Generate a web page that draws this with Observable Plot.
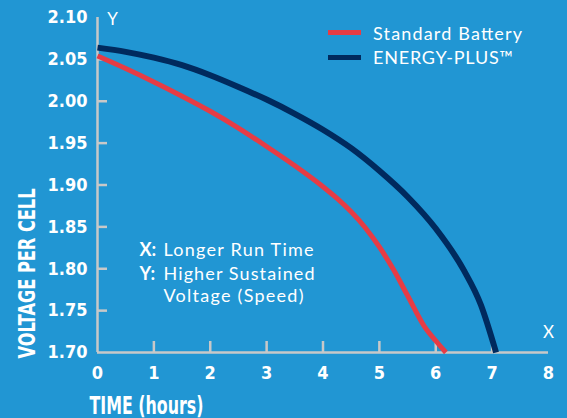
<!DOCTYPE html>
<html><head><meta charset="utf-8">
<script src="https://cdn.jsdelivr.net/npm/d3@7"></script>
<script src="https://cdn.jsdelivr.net/npm/@observablehq/plot@0.6"></script>
<style>
html,body{margin:0;padding:0;background:#2196d3;}
#wrap{width:567px;height:418px;overflow:hidden;}
</style></head><body><div id="wrap"></div>
<script>
// ---- data ----
const hoursStd = [0, 0.5, 1, 1.5, 2, 2.5, 3, 3.5, 4, 4.25, 4.5, 4.75, 5, 5.25, 5.5, 5.8, 6.0, 6.18];
const voltStd  = [2.054, 2.039, 2.023, 2.006, 1.988, 1.968, 1.946, 1.923, 1.898, 1.884, 1.868, 1.849, 1.826, 1.799, 1.768, 1.731, 1.714, 1.700];
const hoursEP  = [0, 0.5, 1, 1.5, 2, 2.5, 3, 3.5, 4, 4.5, 5, 5.5, 6, 6.5, 6.8, 7.07];
const voltEP   = [2.064, 2.059, 2.052, 2.043, 2.031, 2.017, 2.002, 1.985, 1.966, 1.944, 1.917, 1.886, 1.848, 1.798, 1.757, 1.700];
const seriesNames = ["Standard Battery", "ENERGY-PLUS™"];
const xTickLabels = [0, 1, 2, 3, 4, 5, 6, 7, 8];
const yTickLabels = [1.70, 1.75, 1.80, 1.85, 1.90, 1.95, 2.00, 2.05, 2.10];
const xTickMarks = [1, 2, 3, 4, 5, 6, 7];
const yTickMarks = [1.75, 1.80, 1.85, 1.90, 1.95, 2.00, 2.05];
const yTitle = "VOLTAGE PER CELL";
const xTitle = "TIME (hours)";
const noteLines = [["X:", "Longer Run Time"], ["Y:", "Higher Sustained"], ["", "Voltage (Speed)"]];

// ---- styling ----
const BG = "#2196d3", AX = "#c8c8c8", RED = "#e63c45", NAVY = "#002a5e";
const COND = '"Liberation Sans Narrow", "DejaVu Sans Condensed", sans-serif';
const SANS = 'Lato, "Open Sans", sans-serif';

const std = hoursStd.map((t, i) => ({t, v: voltStd[i]}));
const ep = hoursEP.map((t, i) => ({t, v: voltEP[i]}));

const noteMarks = [];
const baseDy = [238, 262, 284];
noteLines.forEach(([k, txt], i) => {
  if (k) noteMarks.push(Plot.text([k], {text: d => d, frameAnchor: "top-left", dx: 42, dy: baseDy[i], lineAnchor: "bottom", textAnchor: "start", fontFamily: SANS, fontWeight: "bold", fontSize: 18, fill: "white"}));
  noteMarks.push(Plot.text([txt], {text: d => d, frameAnchor: "top-left", dx: 66, dy: baseDy[i], lineAnchor: "bottom", textAnchor: "start", fontFamily: SANS, fontSize: 18, fill: "white"}));
});

const chart = Plot.plot({
  width: 567, height: 418,
  marginLeft: 97, marginRight: 19, marginTop: 17, marginBottom: 66,
  style: {background: BG, color: "white", fontFamily: SANS, overflow: "visible"},
  x: {domain: [0, 8]},
  y: {domain: [1.70, 2.10]},
  marks: [
    Plot.tickY(yTickMarks, {y: d => d, stroke: AX, strokeWidth: 2.5, insetRight: 441}),
    Plot.tickX(xTickMarks, {x: d => d, stroke: AX, strokeWidth: 2.5, insetTop: 324}),
    Plot.ruleX([0], {stroke: AX, strokeWidth: 2.5}),
    Plot.ruleY([1.70], {stroke: AX, strokeWidth: 2.5}),
    Plot.axisY(yTickLabels, {tickSize: 0, tickPadding: 10, tickFormat: d3.format(".2f"), fontSize: 18, fontWeight: "bold", fontFamily: COND, fill: "white", label: null}),
    Plot.axisX(xTickLabels, {tickSize: 0, tickPadding: 14, tickFormat: d3.format("d"), fontSize: 18, fontWeight: "bold", fontFamily: COND, fill: "white", label: null}),
    Plot.line(std, {x: "t", y: "v", stroke: RED, strokeWidth: 5, curve: "monotone-x", strokeLinecap: "butt"}),
    Plot.line(ep, {x: "t", y: "v", stroke: NAVY, strokeWidth: 6, curve: "monotone-x", strokeLinecap: "butt"}),
    Plot.text([yTitle], {text: d => d, frameAnchor: "left", dx: -70, dy: 88.5, rotate: -90, textAnchor: "middle", lineAnchor: "middle", fontSize: 23, fontWeight: "bold", fontFamily: COND, fill: "white"}),
    Plot.text([xTitle], {text: d => d, frameAnchor: "bottom-left", dx: -8, dy: 61, textAnchor: "start", lineAnchor: "bottom", fontSize: 25, fontWeight: "bold", fontFamily: COND, fill: "white"}),
    Plot.text(["Y"], {text: d => d, frameAnchor: "top-left", dx: 15, dy: 2, textAnchor: "middle", lineAnchor: "middle", fontSize: 17, fontFamily: SANS, fill: "white"}),
    Plot.text(["X"], {text: d => d, frameAnchor: "bottom-right", dx: 0, dy: -20, textAnchor: "middle", lineAnchor: "middle", fontSize: 17, fontFamily: SANS, fill: "white"}),
    ...noteMarks
  ]
});

const svg = d3.select(chart);
svg.selectAll("text").filter(function() { return this.textContent === yTitle; })
  .attr("textLength", 170).attr("lengthAdjust", "spacingAndGlyphs");
svg.selectAll("text").filter(function() { return this.textContent === xTitle; })
  .attr("textLength", 114).attr("lengthAdjust", "spacingAndGlyphs");
const noteLen = {"Longer Run Time": 150, "Higher Sustained": 151, "Voltage (Speed)": 140};
svg.selectAll("text").filter(function() { return this.textContent in noteLen; })
  .each(function() { d3.select(this).attr("textLength", noteLen[this.textContent]).attr("lengthAdjust", "spacing"); });

// legend
const leg = svg.append("g").attr("font-family", SANS).attr("font-size", 18).attr("fill", "white").attr("text-anchor", "start");
[[RED, 32.5, 40], [NAVY, 57.5, 63.5]].forEach(([c, ly, by], i) => {
  leg.append("line").attr("x1", 328).attr("x2", 361).attr("y1", ly).attr("y2", ly).attr("stroke", c).attr("stroke-width", 5);
  leg.append("text").attr("x", 373).attr("y", by).attr("text-anchor", "start").text(seriesNames[i]);
});
leg.selectAll("text").filter(function() { return this.textContent === seriesNames[0]; })
  .attr("textLength", 149).attr("lengthAdjust", "spacing");
leg.selectAll("text").filter(function() { return this.textContent === seriesNames[1]; })
  .attr("textLength", 140).attr("lengthAdjust", "spacing");

document.getElementById("wrap").appendChild(chart);
</script>
</body></html>
